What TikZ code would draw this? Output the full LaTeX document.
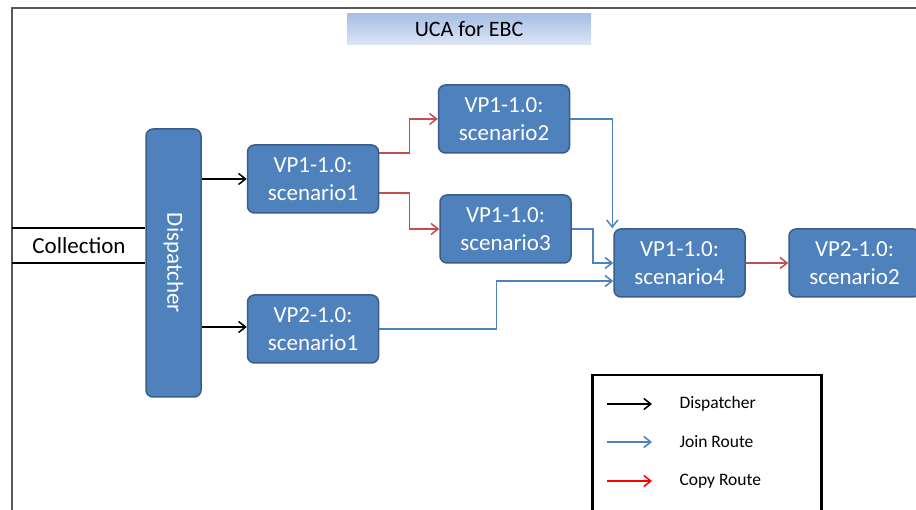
\documentclass[tikz,border=0pt]{standalone}
\usepackage{fontspec}
\setmainfont{Carlito}
\usetikzlibrary{arrows.meta}
\definecolor{boxBlue}{RGB}{79,129,189}
\definecolor{boxEdge}{RGB}{56,93,138}
\definecolor{copyRed}{RGB}{192,80,77}
\definecolor{legRed}{RGB}{255,0,0}
\definecolor{frameGray}{RGB}{89,89,89}
\definecolor{titleTop}{RGB}{166,191,229}
\definecolor{titleBot}{RGB}{222,230,245}

\begin{document}
\begin{tikzpicture}[
  x=1pt, y=-1pt,
  sc/.style={draw=boxEdge, line width=1.5pt, fill=boxBlue, rounded corners=7pt,
    text=white, align=center, font=\fontsize{23}{28}\selectfont,
    minimum width=131pt, minimum height=68pt, inner sep=0pt},
  route/.style={line width=1.5pt, -{Straight Barb[length=7pt,width=11pt]}},
  disproute/.style={route, black},
  joinroute/.style={route, boxBlue},
  copyroute/.style={route, copyRed},
  legtext/.style={anchor=west, font=\fontsize{17.5}{21}\selectfont},
]
  \useasboundingbox (0,0) rectangle (916,510);
  \fill[white] (0,0) rectangle (916,510);
  \draw[frameGray, line width=2pt] (12,520) -- (12,8) -- (930,8);

  % title
  \node[top color=titleTop, bottom color=titleBot, minimum width=244pt,
    minimum height=31pt, font=\fontsize{22}{26}\selectfont] (ttl) at (469,29.5) {UCA for EBC};

  % dispatcher and scenarios
  \node[sc, minimum width=55pt, minimum height=268pt] (dsp) at (173.5,263)
    {\rotatebox{-90}{Dispatcher}};
  \node[sc] (s1) at (313,179) {VP1-1.0:\\scenario1};
  \node[sc] (s2) at (504,119) {VP1-1.0:\\scenario2};
  \node[sc] (s3) at (505.5,229) {VP1-1.0:\\scenario3};
  \node[sc] (s4) at (679.5,263) {VP1-1.0:\\scenario4};
  \node[sc] (t1) at (313,329) {VP2-1.0:\\scenario1};
  \node[sc] (t2) at (854.5,263) {VP2-1.0:\\scenario2};

  % collection input
  \coordinate (c1) at (12,228);
  \coordinate (c2) at (12,263);
  \node[font=\fontsize{23}{28}\selectfont] (col) at (79,246) {Collection};
  \draw[line width=1.5pt] (c1) -- (c1 -| dsp.west);
  \draw[line width=1.5pt] (c2) -- (c2 -| dsp.west);

  % routes
  \draw[disproute] (dsp.east |- s1.west) -- (s1.west);
  \draw[disproute] (dsp.east |- 0,327) -- (t1.west |- 0,327);
  \draw[copyroute] ([yshift=26pt]s1.east) -- ++(30,0) |- (s2.west);
  \draw[copyroute] ([yshift=-14pt]s1.east) -- ++(30,0) |- (s3.west);
  \draw[joinroute] (s2.east) -| ([xshift=-1pt]s4.north west);
  \draw[joinroute] (s3.east) -- ++(21,0) |- (s4.west);
  \draw[joinroute] (t1.east) -- ++(117,0) |- ([yshift=-18pt]s4.west);
  \draw[copyroute] (s4.east) -- (t2.west);

  % legend
  \node[draw, line width=2.5pt, minimum width=229pt, minimum height=150pt,
    anchor=north west] (leg) at (591,374) {};
  \coordinate (a1) at (607,404);
  \coordinate (a2) at (607,442);
  \coordinate (a3) at (607,481);
  \draw[disproute] (a1) -- ++(45,0);
  \draw[joinroute] (a2) -- ++(45,0);
  \draw[route, legRed] (a3) -- ++(45,0);
  \node[legtext] (l1) at (676,404) {Dispatcher};
  \node[legtext] (l2) at (676,442) {Join Route};
  \node[legtext] (l3) at (676,481) {Copy Route};
\end{tikzpicture}
\end{document}
